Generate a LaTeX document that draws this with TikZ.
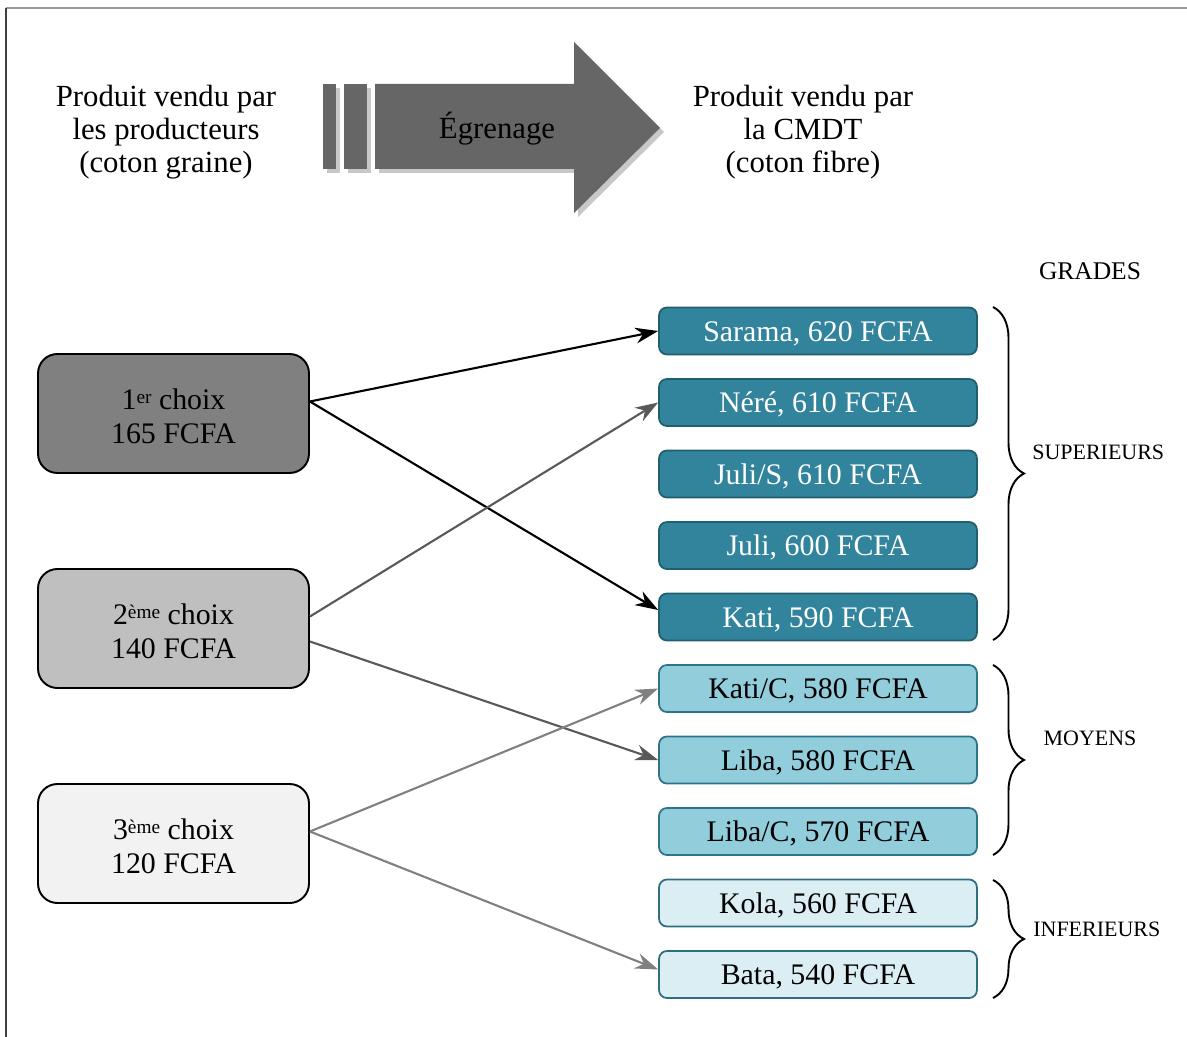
\documentclass[tikz,border=0pt]{standalone}
\usepackage{fontspec}
\setmainfont{Liberation Serif}
\usetikzlibrary{calc,decorations.pathreplacing,arrows.meta}
\definecolor{tealdark}{HTML}{31849B}
\definecolor{tealdarkb}{HTML}{215E6E}
\definecolor{tealmid}{HTML}{92CDDC}
\definecolor{tealmidb}{HTML}{2E7488}
\definecolor{teallight}{HTML}{DAEEF3}
\definecolor{teallightb}{HTML}{2E6E80}
\definecolor{choixA}{HTML}{808080}
\definecolor{choixB}{HTML}{BFBFBF}
\definecolor{choixC}{HTML}{F2F2F2}
\definecolor{arrowgray}{HTML}{666666}
\definecolor{shadowgray}{HTML}{C8C8C8}
\definecolor{linkB}{HTML}{595959}
\definecolor{linkC}{HTML}{808080}
\newcommand\mysupx[1]{\raisebox{3pt}{\fontsize{11}{11}\selectfont #1}}
\begin{document}
\begin{tikzpicture}[x=0.02cm,y=-0.02cm,
  choixbox/.style={draw=black,line width=1.1pt,rounded corners=11pt,minimum width=5.42cm,minimum height=2.38cm,align=center,font=\fontsize{17}{19.5}\selectfont,inner sep=0pt},
  choixtext/.style={align=center,font=\fontsize{17}{19.5}\selectfont,inner sep=0pt},
  gradebox/.style={line width=1pt,rounded corners=4.5pt,minimum width=6.36cm,minimum height=0.94cm,inner sep=0pt,text height=11.6pt,text depth=0pt,font=\fontsize{17}{19}\selectfont},
  gdark/.style={gradebox,draw=tealdarkb,fill=tealdark,text=white},
  gmid/.style={gradebox,draw=tealmidb,fill=tealmid,text=black},
  glight/.style={gradebox,draw=teallightb,fill=teallight,text=black},
  toptext/.style={align=center,font=\fontsize{17.5}{18.7}\selectfont,inner sep=0pt},
  link/.style={line width=1.2pt,-{Stealth[length=13pt,width=9pt]}},
  gbrace/.style={draw,line width=1.1pt,decorate,decoration={brace,amplitude=0.62cm}},
  gradelabel/.style={font=\fontsize{12.5}{14}\selectfont,inner sep=0pt}
]
\useasboundingbox (0,0) rectangle (1187,1037);
% frame
\draw[color=gray!80,line width=1pt] (6,8) -- (1187,8);
\draw[color=black!75,line width=1pt] (6,8) -- (6,1037);

% top texts
\node[toptext] (prod) at (166,132) {Produit vendu par\\les producteurs\\(coton graine)};
\node[toptext] (cmdt) at (803,132) {Produit vendu par\\la CMDT\\(coton fibre)};

% big arrow with shadow
\begin{scope}[shift={(4,4)}]
  \fill[shadowgray] (323,84) rectangle (336,169);
  \fill[shadowgray] (344,84) rectangle (367,169);
  \fill[shadowgray] (375,84) -- (574,84) -- (574,42) -- (660,128) -- (574,213) -- (574,169) -- (375,169) -- cycle;
\end{scope}
\fill[arrowgray] (323,84) rectangle (336,169);
\fill[arrowgray] (344,84) rectangle (367,169);
\fill[arrowgray] (375,84) -- (574,84) -- (574,42) -- (660,128) -- (574,213) -- (574,169) -- (375,169) -- cycle;
\node[font=\fontsize{17.5}{19}\selectfont,inner sep=0pt] (egr) at (497,129) {Égrenage};

% grades title
\node[font=\fontsize{14.5}{16}\selectfont,inner sep=0pt] (grades) at (1090,271) {GRADES};

% left boxes
\node[choixbox,fill=choixA] (c1) at (173.5,413.5) {};
\node[choixbox,fill=choixB] (c2) at (173.5,628.5) {};
\node[choixbox,fill=choixC] (c3) at (173.5,843.5) {};
\node[choixtext] (t1) at (173.5,416) {1\mysupx{er} choix\\165 FCFA};
\node[choixtext] (t2) at (173.5,631) {2\mysupx{ème} choix\\140 FCFA};
\node[choixtext] (t3) at (173.5,846) {3\mysupx{ème} choix\\120 FCFA};

% right boxes
\node[gdark] (g1) at (818,331) {Sarama, 620 FCFA};
\node[gdark] (g2) at (818,402.5) {Néré, 610 FCFA};
\node[gdark] (g3) at (818,474) {Juli/S, 610 FCFA};
\node[gdark] (g4) at (818,545.5) {Juli, 600 FCFA};
\node[gdark] (g5) at (818,617) {Kati, 590 FCFA};
\node[gmid] (g6) at (818,688.5) {Kati/C, 580 FCFA};
\node[gmid] (g7) at (818,760) {Liba, 580 FCFA};
\node[gmid] (g8) at (818,831.5) {Liba/C, 570 FCFA};
\node[glight] (g9) at (818,903) {Kola, 560 FCFA};
\node[glight] (g10) at (818,974.5) {Bata, 540 FCFA};

% connectors
\draw[link,black] ($(c1.east)+(0,-12)$) -- (g1.west);
\draw[link,black] ($(c1.east)+(0,-12)$) -- ($(g5.west)+(0,-7)$);
\draw[link,linkB] ($(c2.east)+(0,-12)$) -- (g2.west);
\draw[link,linkB] ($(c2.east)+(0,13)$) -- (g7.west);
\draw[link,linkC] ($(c3.east)+(0,-12)$) -- (g6.west);
\draw[link,linkC] ($(c3.east)+(0,-12)$) -- ($(g10.west)+(0,-5)$);

% braces
\draw[gbrace] (993,307) -- (993,640) coordinate[midway] (bs);
\draw[gbrace] (993,665) -- (993,855) coordinate[midway] (bm);
\draw[gbrace] (993,880) -- (993,998) coordinate[midway] (bi);
\node[gradelabel,anchor=west] (sup) at (1032,452) {SUPERIEURS};
\node[gradelabel] (moy) at (1090,738) {MOYENS};
\node[gradelabel,anchor=west] (inf) at (1033,929) {INFERIEURS};
\end{tikzpicture}
\end{document}
